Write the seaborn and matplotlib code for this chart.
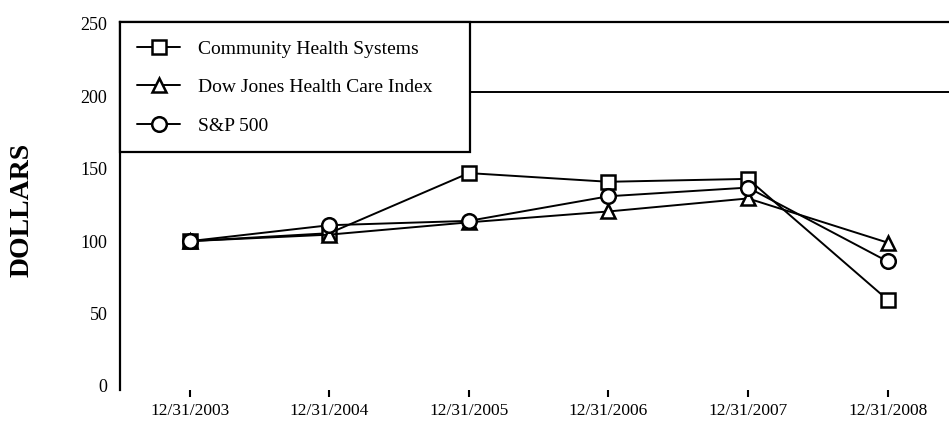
import matplotlib
matplotlib.use('Agg')
import matplotlib.pyplot as plt
import seaborn as sns
import pandas as pd

# ---- data ----
dates = ["12/31/2003", "12/31/2004", "12/31/2005", "12/31/2006", "12/31/2007", "12/31/2008"]
chs = [100, 105.5, 147, 141, 143, 59.5]
djhc = [100, 104.5, 113, 120.5, 129.5, 99]
sp500 = [100, 111, 114, 131, 137, 86]
series_names = ["Community Health Systems", "Dow Jones Health Care Index", "S&P 500"]
y_ticks = [0, 50, 100, 150, 200, 250]

sns.set_style('white')
plt.rcParams['font.family'] = ['Liberation Serif', 'DejaVu Serif']
plt.rcParams['text.color'] = 'black'
plt.rcParams['axes.labelcolor'] = 'black'
plt.rcParams['xtick.color'] = 'black'
plt.rcParams['ytick.color'] = 'black'

df = pd.DataFrame({
    'pos': list(range(len(dates))) * 3,
    'value': chs + djhc + sp500,
    'series': [n for n in series_names for _ in dates],
})

fig = plt.figure(figsize=(9.49, 4.22), dpi=100)
ax = fig.add_axes([0.1264, 0.0751, 0.8736, 0.8716])

markers = {series_names[0]: 's', series_names[1]: '^', series_names[2]: 'o'}
sns.lineplot(data=df, x='pos', y='value', style='series', style_order=series_names,
             markers=markers, dashes=False, color='black', markersize=10.5,
             markerfacecolor='white', markeredgecolor='black', markeredgewidth=1.8,
             linewidth=1.4, legend=False, ax=ax, sort=False)

ax.set_xlim(-0.5, 5.44)
ax.set_ylim(-3, 251)
ax.set_xticks(range(len(dates)))
ax.set_xticklabels(dates, fontsize=12.5, color='black')
ax.set_yticks(y_ticks)
ax.set_yticklabels([str(t) for t in y_ticks], fontsize=13, color='black')
ax.set_xlabel('')
ax.set_ylabel('DOLLARS', fontsize=20, fontweight='bold', color='black')
ax.yaxis.set_label_coords(-0.1025, 0.49)

ax.tick_params(axis='x', length=5, width=1.5, direction='out', pad=4, color='black', bottom=True)
ax.tick_params(axis='y', length=0, pad=9)

for s in ['bottom', 'right']:
    ax.spines[s].set_visible(False)
for s in ['left', 'top']:
    ax.spines[s].set_visible(True)
    ax.spines[s].set_color('black')
    ax.spines[s].set_linewidth(1.6)

# scanned box line at the top right
ax.axhline(203, xmin=0.422, xmax=1.0, color='black', linewidth=1.4)

leg = ax.legend(handles=ax.lines[:3], labels=series_names, loc='upper left',
                bbox_to_anchor=(0.0, 0.648, 0.422, 0.352), mode='expand',
                fontsize=14, frameon=True, fancybox=False, framealpha=1,
                edgecolor='black', borderpad=0.9, labelspacing=1.08,
                handlelength=2.2, handletextpad=0.9, borderaxespad=0.0,
                labelcolor='black')
leg.get_frame().set_linewidth(1.6)

fig.savefig('out.png', dpi=100)
